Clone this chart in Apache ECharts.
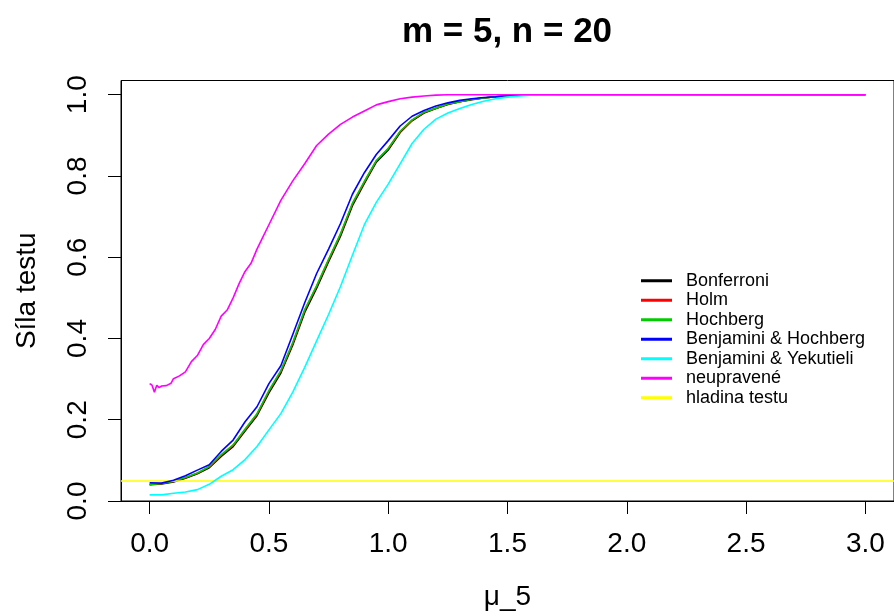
<!DOCTYPE html>
<html>
<head>
<meta charset="utf-8">
<script src="https://cdn.jsdelivr.net/npm/echarts@6/dist/echarts.min.js"></script>
<style>html,body{margin:0;padding:0;background:#fff}#c{width:894px;height:616px}</style>
</head>
<body>
<div id="c"></div>
<script>
const titleText = "m = 5, n = 20";
const xName = "μ_5";
const yName = "Síla testu";
const xTicks = [0, 0.5, 1.0, 1.5, 2.0, 2.5, 3.0];
const yTicks = [0, 0.2, 0.4, 0.6, 0.8, 1.0];
const seriesNames = ["Bonferroni", "Holm", "Hochberg", "Benjamini & Hochberg", "Benjamini & Yekutieli", "neupravené", "hladina testu"];
const seriesColors = ["#000000", "#FF0000", "#00CD00", "#0000FF", "#00FFFF", "#FF00FF", "#FFFF00"];
const alphaLevel = 0.05;

const xGrid = [0,0.05,0.1,0.15,0.2,0.25,0.3,0.35,0.4,0.45,0.5,0.55,0.6,0.65,0.7,0.75,0.8,0.85,0.9,0.95,1.0,1.05,1.1,1.15,1.2,1.25,1.3,1.35,1.4,1.45,1.5,1.55,1.6,3.0];
const bonferroni = [0.040,0.042,0.047,0.056,0.067,0.082,0.110,0.134,0.172,0.210,0.266,0.315,0.384,0.464,0.524,0.589,0.652,0.727,0.782,0.834,0.864,0.907,0.936,0.955,0.966,0.976,0.983,0.988,0.992,0.995,0.997,0.999,1.000,1.000];
const holm = [0.041,0.043,0.048,0.057,0.068,0.084,0.112,0.137,0.175,0.213,0.270,0.319,0.388,0.469,0.528,0.593,0.656,0.731,0.785,0.837,0.867,0.909,0.937,0.956,0.967,0.977,0.983,0.989,0.992,0.995,0.997,0.999,1.000,1.000];
const hochberg = [0.041,0.043,0.049,0.058,0.069,0.085,0.114,0.138,0.177,0.215,0.272,0.321,0.390,0.471,0.530,0.595,0.658,0.733,0.787,0.838,0.868,0.910,0.938,0.957,0.967,0.977,0.983,0.989,0.992,0.995,0.997,0.999,1.000,1.000];
const benjHoch = [0.045,0.044,0.051,0.062,0.076,0.089,0.122,0.150,0.195,0.232,0.289,0.333,0.410,0.488,0.560,0.620,0.683,0.755,0.808,0.853,0.887,0.923,0.947,0.961,0.972,0.980,0.986,0.990,0.993,0.995,0.998,0.999,1.000,1.000];
const benjYek = [0.015,0.015,0.019,0.022,0.028,0.041,0.061,0.077,0.102,0.134,0.175,0.215,0.268,0.329,0.394,0.459,0.528,0.605,0.680,0.735,0.780,0.830,0.880,0.915,0.940,0.955,0.966,0.976,0.984,0.990,0.994,0.997,0.999,1.000];
const rawX = [0,0.01,0.02,0.03,0.04,0.05,0.07,0.09,0.1,0.125,0.15,0.175,0.2,0.225,0.25,0.275,0.3,0.325,0.35,0.375,0.4,0.425,0.45,0.475,0.5,0.55,0.6,0.65,0.7,0.75,0.8,0.85,0.9,0.95,1.0,1.05,1.1,1.15,1.2,1.25,3.0];
const rawY = [0.289,0.285,0.268,0.285,0.279,0.283,0.284,0.290,0.301,0.308,0.318,0.343,0.358,0.385,0.400,0.422,0.455,0.470,0.500,0.535,0.565,0.585,0.620,0.650,0.680,0.740,0.788,0.830,0.875,0.903,0.927,0.945,0.960,0.975,0.983,0.990,0.994,0.997,0.999,1.0,1.0];

const FONT = "'Liberation Sans', Arial, Helvetica, sans-serif";
const zip = (xs, ys) => xs.map((x, i) => [x, ys[i]]);
const curveData = [zip(xGrid, bonferroni), zip(xGrid, holm), zip(xGrid, hochberg), zip(xGrid, benjHoch), zip(xGrid, benjYek), zip(rawX, rawY)];

const series = curveData.map((d, i) => ({
  name: seriesNames[i], type: 'line', data: d, showSymbol: false, symbol: 'none',
  lineStyle: { color: seriesColors[i], width: 1.6 }, itemStyle: { color: seriesColors[i] },
  silent: true, z: 2 + i
}));
series.push({
  name: seriesNames[6], type: 'line', data: [], symbol: 'none',
  lineStyle: { color: seriesColors[6], width: 1.6 }, itemStyle: { color: seriesColors[6] },
  z: 10,
  markLine: { silent: true, symbol: 'none', label: { show: false },
    lineStyle: { color: seriesColors[6], type: 'solid', width: 1.6 },
    data: [{ yAxis: alphaLevel }] }
});

const chart = echarts.init(document.getElementById('c'), null, { renderer: 'canvas' });
chart.setOption({
  animation: false,
  backgroundColor: '#ffffff',
  title: { text: titleText, left: 502, textAlign: 'center', top: 10,
    textStyle: { fontFamily: FONT, fontSize: 35, fontWeight: 'bold', color: '#000' } },
  grid: { left: 121, right: -1, top: 80.5, bottom: 111, show: true, borderColor: '#000', borderWidth: 1, backgroundColor: 'transparent' },
  legend: {
    orient: 'vertical', left: 641, top: 271, padding: 0, itemGap: 0,
    itemWidth: 31, itemHeight: 3, icon: 'rect',
    textStyle: { fontFamily: FONT, fontSize: 18, color: '#000', lineHeight: 19.5, padding: [0, 0, 0, 9] },
    data: seriesNames, selectedMode: false
  },
  xAxis: {
    type: 'value', min: -0.12, max: 3.12,
    name: xName, nameLocation: 'middle', nameGap: 82,
    nameTextStyle: { fontFamily: FONT, fontSize: 28, color: '#000' },
    axisLine: { show: true, onZero: false, lineStyle: { color: '#000', width: 1 } },
    axisTick: { show: true, inside: false, length: 13, customValues: xTicks, lineStyle: { color: '#000', width: 1 } },
    axisLabel: { show: true, customValues: xTicks, margin: 29, formatter: v => v.toFixed(1),
      fontFamily: FONT, fontSize: 28, color: '#000' },
    splitLine: { show: false }
  },
  yAxis: {
    type: 'value', min: 0, max: 1.035,
    name: yName, nameLocation: 'middle', nameGap: 80, nameRotate: 90,
    nameTextStyle: { fontFamily: FONT, fontSize: 28, color: '#000' },
    axisLine: { show: true, onZero: false, lineStyle: { color: '#000', width: 1 } },
    axisTick: { show: true, inside: false, length: 13, customValues: yTicks, lineStyle: { color: '#000', width: 1 } },
    axisLabel: { show: true, customValues: yTicks, rotate: 90, margin: 29, formatter: v => v.toFixed(1),
      fontFamily: FONT, fontSize: 28, color: '#000' },
    splitLine: { show: false }
  },
  series: series
});
</script>
</body>
</html>
